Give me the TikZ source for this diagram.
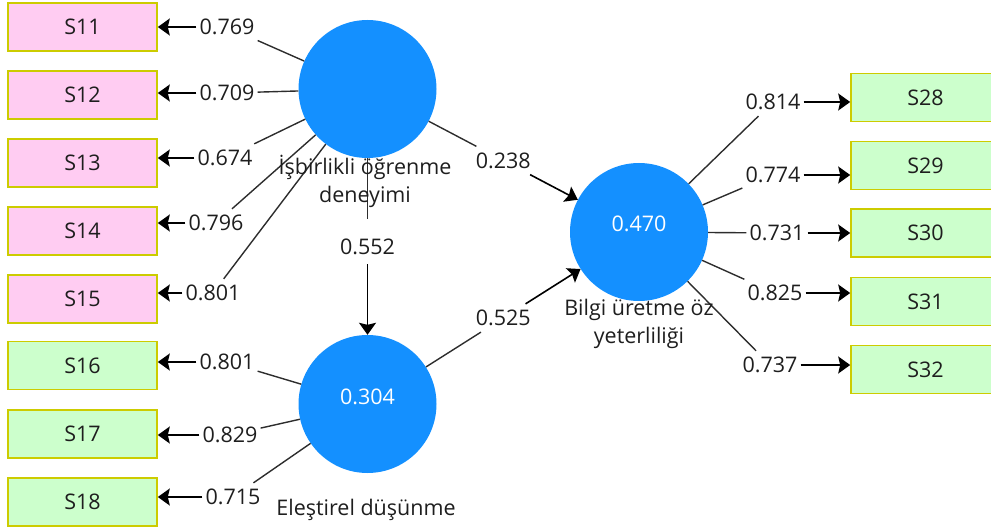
\documentclass[tikz,border=0pt]{standalone}
\usepackage{fontspec}
\setmainfont{Open Sans}
\usetikzlibrary{arrows.meta,calc}

\definecolor{lvblue}{RGB}{20,144,255}
\definecolor{pinkfill}{RGB}{255,204,242}
\definecolor{greenfill}{RGB}{204,255,204}
\definecolor{boxline}{RGB}{204,204,0}
\definecolor{linegray}{RGB}{45,45,45}
\definecolor{txt}{RGB}{30,30,30}

\tikzset{
  lv/.style={circle, fill=lvblue, draw=none, minimum size=138pt, inner sep=0pt},
  lvval/.style={text=white, font=\fontsize{21.5}{26}\selectfont, inner sep=0pt},
  ind/.style={draw=boxline, line width=1.6pt, minimum width=149pt, minimum height=48pt,
              inner sep=0pt, text=txt, font=\fontsize{21.5}{26}\selectfont},
  pinkind/.style={ind, fill=pinkfill},
  greenind/.style={ind, fill=greenfill},
  val/.style={text=txt, font=\fontsize{21.5}{26}\selectfont, inner xsep=3pt, inner ysep=6pt},
  lvname/.style={text=txt, font=\fontsize{21.5}{28}\selectfont, align=center, inner sep=0pt, anchor=base},
  ld/.style={draw=linegray, line width=1.4pt},
  arr/.style={draw=black, line width=1.6pt, -{Stealth[length=12pt,width=17pt,inset=2pt]}},
}

\begin{document}
\begin{tikzpicture}[x=1pt,y=-1pt]
\useasboundingbox (0,0) rectangle (991,532);

% latent variables
\node[lv] (c1) at (367.5,89) {};
\node[lv] (c2) at (367.5,404) {};
\node[lv] (c3) at (639,232) {};
\node[lvval] (r2) at (367.5,397) {0.304};
\node[lvval] (r3) at (639,224) {0.470};

% indicators of the first construct
\node[pinkind] (s11) at (82.5,27) {S11};
\node[pinkind] (s12) at (82.5,95) {S12};
\node[pinkind] (s13) at (82.5,163) {S13};
\node[pinkind] (s14) at (82.5,231) {S14};
\node[pinkind] (s15) at (82.5,299) {S15};
% indicators of the second construct
\node[greenind] (s16) at (82.5,365.5) {S16};
\node[greenind] (s17) at (82.5,434) {S17};
\node[greenind] (s18) at (82.5,502) {S18};
% indicators of the third construct
\node[greenind] (s28) at (925.5,97.5) {S28};
\node[greenind] (s29) at (925.5,165.5) {S29};
\node[greenind] (s30) at (925.5,233) {S30};
\node[greenind] (s31) at (925.5,301.5) {S31};
\node[greenind] (s32) at (925.5,369.5) {S32};

% loading labels
\node[val] (l11) at (227,27) {0.769};
\node[val] (l12) at (227,93) {0.709};
\node[val] (l13) at (225,158) {0.674};
\node[val] (l14) at (216,223) {0.796};
\node[val] (l15) at (213,293) {0.801};
\node[val] (l16) at (227,362) {0.801};
\node[val] (l17) at (230,435) {0.829};
\node[val] (l18) at (233,497) {0.715};
\node[val] (l28) at (773,102) {0.814};
\node[val] (l29) at (773,175) {0.774};
\node[val] (l30) at (777,233) {0.731};
\node[val] (l31) at (775,293) {0.825};
\node[val] (l32) at (770,365) {0.737};

% path coefficient labels
\node[val] (p13) at ($(c1)!0.5!(c3)$) {0.238};
\node[val] (p23) at ($(c2)!0.5!(c3)$) {0.525};
\node[val, anchor=base, text height=33pt, text depth=8pt, inner ysep=2pt] (p12) at (367.5,254) {0.552};

% outer loadings: construct -> label -> indicator
\foreach \l/\s in {l11/s11,l12/s12,l13/s13,l14/s14,l15/s15}{
  \draw[ld] (c1) -- (\l);
  \draw[arr] (\l) -- (\l -| \s.east);
}
\foreach \l/\s in {l16/s16,l17/s17,l18/s18}{
  \draw[ld] (c2) -- (\l);
  \draw[arr] (\l) -- (\l -| \s.east);
}
\foreach \l/\s in {l28/s28,l29/s29,l30/s30,l31/s31,l32/s32}{
  \draw[ld] (c3) -- (\l);
  \draw[arr] (\l) -- (\l -| \s.west);
}

% structural paths
\draw[ld] (c1) -- (p13);
\draw[arr] (p13) -- (c3);
\draw[ld] (c2) -- (p23);
\draw[arr] (p23) -- (c3);
\draw[ld] (c1) -- (p12);
\draw[arr] (p12) -- (c2);

% construct names
\node[lvname] (n1) at (365,202) {İşbirlikli öğrenme\\deneyimi};
\node[lvname] (n2) at (366,515) {Eleştirel düşünme};
\node[lvname] (n3) at (639,343) {Bilgi üretme öz\\yeterliliği};
\end{tikzpicture}
\end{document}
